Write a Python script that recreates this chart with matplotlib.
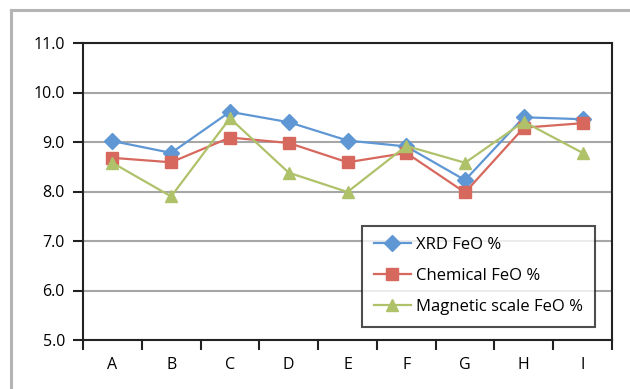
import matplotlib.pyplot as plt
from matplotlib.patches import Rectangle
import numpy as np

samples = ['A', 'B', 'C', 'D', 'E', 'F', 'G', 'H', 'I']
xrd_feo = [9.02, 8.78, 9.61, 9.40, 9.03, 8.91, 8.23, 9.50, 9.46]
chem_feo = [8.68, 8.59, 9.09, 8.98, 8.59, 8.78, 7.98, 9.29, 9.38]
mag_feo = [8.58, 7.90, 9.48, 8.38, 7.99, 8.92, 8.58, 9.41, 8.78]
y_ticks = [5.0, 6.0, 7.0, 8.0, 9.0, 10.0, 11.0]

plt.rcParams['font.family'] = ['Open Sans', 'DejaVu Sans']
plt.rcParams['font.size'] = 11.5

fig = plt.figure(figsize=(6.3, 3.89), dpi=100)
# grey outer frame, only top and left edges fall inside the image
fig.patches.append(Rectangle((11 / 630, -0.1), 1.2, (389 - 10) / 389 + 0.1,
                             transform=fig.transFigure, fill=False,
                             edgecolor='#b4b4b4', linewidth=2.2))

ax = fig.add_axes([83 / 630, 1 - 340 / 389, (612 - 83) / 630, (340 - 43) / 389])

x = np.arange(len(samples))
ax.plot(x, xrd_feo, color='#5f97d4', marker='D', markersize=8, linewidth=1.6,
        label='XRD FeO %')
ax.plot(x, chem_feo, color='#d7685e', marker='s', markersize=8, linewidth=1.6,
        label='Chemical FeO %')
ax.plot(x, mag_feo, color='#afc26a', marker='^', markersize=9, linewidth=1.6,
        label='Magnetic scale FeO %')

ax.set_xlim(-0.5, len(samples) - 0.5)
ax.set_ylim(5, 11)
ax.set_yticks(y_ticks)
ax.set_yticklabels(['%.1f' % v for v in y_ticks])
ax.set_xticks(x)
ax.set_xticklabels(samples)
ax.set_xticks(np.arange(-0.5, len(samples)), minor=True)
ax.tick_params(axis='x', which='major', length=0, pad=12)
ax.tick_params(axis='x', which='minor', length=7, width=1.5, color='#222222')
ax.tick_params(axis='y', length=7, width=1.5, color='#222222', pad=6)

ax.yaxis.grid(True, color='#a6a6a6', linewidth=1.5)
ax.set_axisbelow(True)
for s in ax.spines.values():
    s.set_color('#222222')
    s.set_linewidth(1.5)

leg = ax.legend(loc='lower right', bbox_to_anchor=(0.968, 0.044), frameon=True,
                fontsize=12, fancybox=False, borderpad=0.7, labelspacing=0.9,
                handlelength=2.2, handletextpad=0.35, borderaxespad=0)
leg.get_frame().set_edgecolor('#222222')
leg.get_frame().set_linewidth(1.5)

fig.savefig('out.png', dpi=100)
